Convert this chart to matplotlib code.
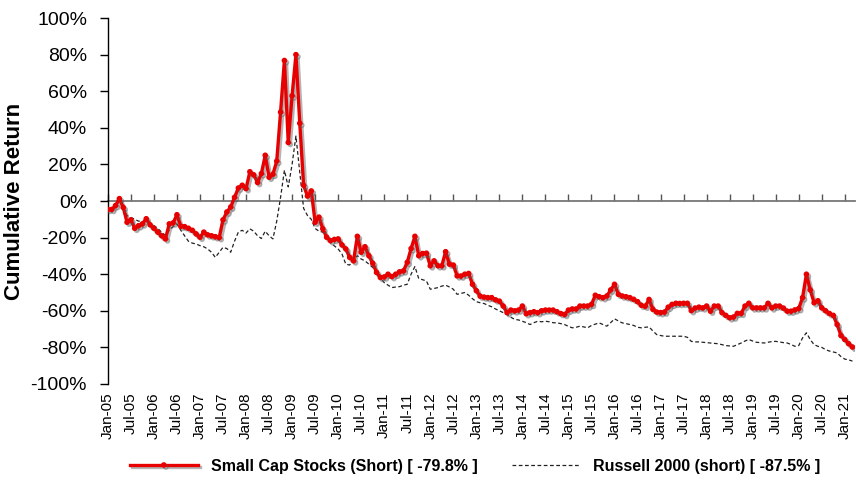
import numpy as np
import pandas as pd
import matplotlib
matplotlib.use("Agg")
import matplotlib.pyplot as plt
import matplotlib.patheffects as pe

plt.rcParams['font.family'] = ['Liberation Sans', 'DejaVu Sans']

# monthly observations, Jan-05 .. Mar-21
months = pd.date_range('2005-01-01', periods=195, freq='MS')

small_cap_short = [
    -4.6, -4.6, -2.5, 1.3, -3.5, -11.6, -10.3, -14.9, -13.5, -12.5,
    -9.7, -13.0, -14.9, -17.0, -19.0, -20.7, -12.5, -12.0, -7.5, -13.8,
    -14.0, -14.9, -16.0, -18.0, -19.8, -17.0, -18.5, -19.0, -19.5, -20.0,
    -10.3, -6.0, -3.3, 2.0, 7.1, 8.6, 6.8, 16.0, 14.3, 10.1,
    15.0, 25.0, 13.0, 14.6, 21.8, 48.6, 76.8, 32.0, 57.5, 80.0,
    42.5, 8.6, 2.7, 5.5, -11.6, -8.8, -15.2, -19.8, -21.7, -21.0,
    -20.7, -24.0, -26.2, -30.8, -32.7, -19.3, -28.0, -25.0, -29.9, -34.0,
    -39.0, -41.8, -41.5, -40.0, -41.3, -40.0, -38.7, -38.2, -33.5, -26.0,
    -19.3, -29.9, -28.7, -28.5, -35.4, -32.7, -35.4, -35.4, -27.7, -34.5,
    -35.0, -40.9, -41.0, -40.0, -39.6, -45.5, -49.0, -52.0, -52.5, -52.8,
    -52.8, -54.0, -54.7, -57.4, -61.0, -59.6, -60.0, -59.6, -57.4, -61.6,
    -61.0, -60.5, -61.0, -60.0, -59.6, -59.6, -59.6, -60.5, -61.5, -62.0,
    -59.6, -59.0, -59.0, -57.4, -57.4, -57.4, -56.5, -51.5, -52.3, -52.8,
    -51.9, -48.6, -45.5, -51.0, -51.9, -52.3, -52.8, -53.7, -55.0, -57.0,
    -57.5, -53.8, -59.2, -60.7, -61.0, -60.7, -58.0, -56.5, -55.9, -56.0,
    -55.9, -55.9, -59.9, -58.5, -58.0, -58.4, -57.4, -60.2, -57.4, -57.4,
    -61.0, -62.5, -63.8, -63.4, -61.4, -61.4, -57.4, -55.9, -58.4, -58.4,
    -58.4, -58.4, -55.9, -58.4, -57.4, -57.4, -58.5, -60.2, -60.2, -59.5,
    -58.8, -52.8, -40.0, -48.6, -55.6, -54.5, -58.4, -60.0, -61.5, -62.5,
    -67.5, -73.5, -75.7, -78.0, -79.8,
]

russell_short = [
    -4.6, -4.6, -3.0, 0.5, -3.0, -8.0, -9.0, -10.0, -11.0, -11.2,
    -11.0, -12.5, -13.4, -15.0, -17.0, -18.9, -16.0, -14.0, -12.5, -16.0,
    -19.0, -22.0, -23.0, -23.5, -24.4, -25.0, -26.2, -28.0, -30.8, -28.0,
    -25.3, -26.0, -28.0, -22.0, -17.0, -16.0, -17.5, -15.2, -16.5, -19.0,
    -20.5, -16.5, -19.0, -20.7, -11.0, 2.0, 16.8, 7.7, 20.0, 35.5,
    16.0, -4.0, -7.9, -10.0, -15.0, -16.5, -17.0, -20.0, -22.6, -24.5,
    -26.2, -29.0, -34.5, -35.0, -32.0, -29.9, -31.7, -32.7, -34.5, -36.3,
    -39.0, -42.0, -44.6, -46.0, -47.3, -47.0, -46.8, -46.0, -45.5, -40.0,
    -35.8, -42.4, -43.0, -43.7, -48.2, -47.8, -47.3, -46.5, -46.0, -47.0,
    -48.2, -51.0, -50.5, -50.0, -51.5, -53.4, -55.0, -55.6, -56.0, -57.0,
    -57.8, -59.0, -60.0, -61.0, -62.0, -63.5, -64.7, -65.0, -65.7, -66.5,
    -67.5, -66.5, -65.7, -66.0, -65.7, -66.0, -66.5, -66.6, -67.0, -67.5,
    -68.5, -69.3, -69.0, -68.4, -68.8, -69.3, -68.0, -67.3, -66.6, -67.5,
    -68.4, -66.5, -64.4, -65.5, -66.6, -67.0, -67.5, -68.0, -69.0, -69.3,
    -69.0, -68.8, -71.0, -73.0, -73.5, -73.9, -73.9, -73.9, -73.9, -73.9,
    -73.9, -74.5, -76.7, -77.0, -77.0, -77.2, -77.4, -77.6, -77.8, -78.0,
    -78.5, -79.0, -79.2, -79.4, -78.5, -77.6, -76.5, -75.7, -76.5, -77.2,
    -77.4, -77.6, -77.2, -76.8, -76.7, -77.0, -77.4, -77.6, -78.4, -79.4,
    -79.0, -74.8, -72.0, -75.7, -78.5, -79.4, -80.0, -81.2, -82.0, -82.5,
    -83.0, -85.0, -86.4, -86.8, -87.5,
]

small_label = 'Small Cap Stocks (Short) [ -79.8% ]'
russell_label = 'Russell 2000 (short) [ -87.5% ]'

x = np.arange(len(months))
tick_pos = x[::6]
tick_labels = months[::6].strftime('%b-%y')

fig = plt.figure(figsize=(8.56, 4.87), dpi=100)
ax = fig.add_axes([0.126, 0.2115, 0.873, 0.7515])

shadow = [pe.SimpleLineShadow(offset=(1.5, -1.5), shadow_color='0.35', alpha=0.45),
          pe.Normal()]

ax.plot(x, russell_short, color='#222222', lw=0.9, ls=(0, (3, 2)),
        label=russell_label, zorder=2)
ax.plot(x, small_cap_short, color='#E80000', lw=2.4, marker='o', ms=3,
        label=small_label, zorder=3, path_effects=shadow)

ax.set_xlim(0, len(months) - 0.3)
ax.set_ylim(-100, 100)
ax.set_yticks(np.arange(-100, 101, 20))
ax.set_yticklabels([f'{v}%' for v in range(-100, 101, 20)], fontsize=14)
ax.tick_params(axis='y', direction='out', length=6, width=1, pad=9)

# labels on the bottom, tick marks on the zero line
ax.set_xticks(tick_pos)
ax.set_xticklabels(tick_labels, rotation=90, fontsize=11)
ax.tick_params(axis='x', length=0, pad=6)

zero_ax = ax.secondary_xaxis(0.5)
zero_ax.set_xticks(tick_pos)
zero_ax.set_xticklabels([])
zero_ax.tick_params(axis='x', direction='out', length=5, width=1,
                    color='#555555', labeltop=False, labelbottom=False)
for s in zero_ax.spines.values():
    s.set_color('#777777')
    s.set_linewidth(1.3)

for side in ['top', 'right', 'bottom']:
    ax.spines[side].set_visible(False)
ax.spines['left'].set_linewidth(1)

ax.set_ylabel('Cumulative Return', fontsize=16, fontweight='bold', labelpad=4)

handles, labels = ax.get_legend_handles_labels()
fig.legend(handles[::-1], labels[::-1], loc='center', bbox_to_anchor=(0.555, 0.043),
           ncol=2, frameon=False, handlelength=4.25, columnspacing=2.2,
           prop={'size': 11.5, 'weight': 'bold'})

fig.savefig('out.png', dpi=100)
